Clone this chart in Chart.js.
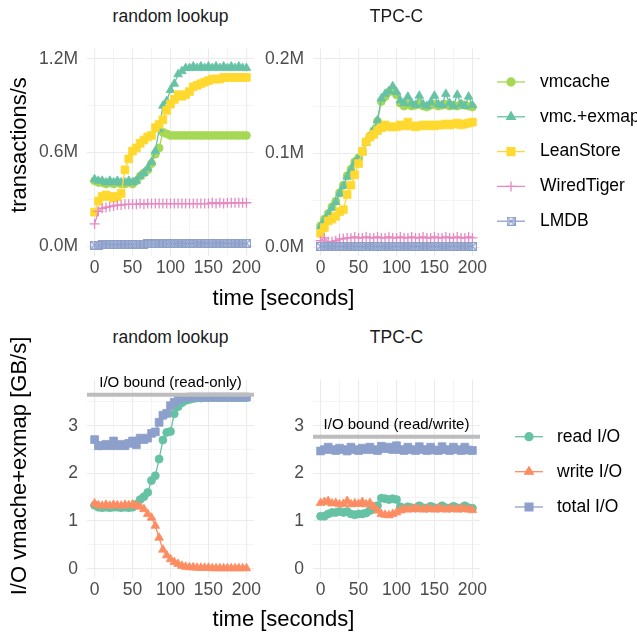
<!DOCTYPE html>
<html>
<head>
<meta charset="utf-8">
<script src="https://cdn.jsdelivr.net/npm/chart.js@4.4.1/dist/chart.umd.min.js"></script>
<style>
    body { margin: 0; background: #fff; }
    #wrap { position: relative; width: 637px; height: 632px; overflow: hidden; font-family: "Liberation Sans", Arial, sans-serif; }
    #wrap canvas { position: absolute; }
    .txt { position: absolute; white-space: nowrap; transform: translate(-50%, -50%); line-height: 1; }
    .strip { font-size: 17.5px; color: #1a1a1a; }
    .axis-title { font-size: 22px; color: #000; }
    .rot { transform: translate(-50%, -50%) rotate(-90deg); }
</style>
</head>
<body>
<div id="wrap"></div>
<script>
// --- DATA ---
const TIME = [0, 5, 10, 15, 20, 25, 30, 35, 40, 45, 50, 55, 60, 65, 70, 75, 80, 85, 90, 95, 100,
    105, 110, 115, 120, 125, 130, 135, 140, 145, 150, 155, 160, 165, 170, 175, 180, 185, 190, 195, 200];

const PANEL_TITLES = ['random lookup', 'TPC-C'];
const TOP_SERIES = ['vmcache', 'vmc.+exmap', 'LeanStore', 'WiredTiger', 'LMDB'];
const IO_SERIES = ['read I/O', 'write I/O', 'total I/O'];

// transactions/s (millions), random lookup
const RL_VMCACHE = [0.42, 0.41, 0.41, 0.40, 0.41, 0.40, 0.41, 0.40, 0.40, 0.41, 0.40, 0.42, 0.45, 0.47, 0.49, 0.53, 0.59, 0.63, 0.73, 0.72, 0.71,
    0.71, 0.71, 0.71, 0.71, 0.71, 0.71, 0.71, 0.71, 0.71, 0.71, 0.71, 0.71, 0.71, 0.71, 0.71, 0.71, 0.71, 0.71, 0.71, 0.71];
const RL_EXMAP = [0.43, 0.42, 0.42, 0.41, 0.42, 0.41, 0.42, 0.41, 0.41, 0.42, 0.41, 0.42, 0.45, 0.47, 0.50, 0.54, 0.61, 0.75, 0.90, 0.93, 1.00,
    1.04, 1.10, 1.12, 1.14, 1.14, 1.15, 1.14, 1.15, 1.14, 1.15, 1.14, 1.15, 1.14, 1.15, 1.14, 1.15, 1.14, 1.15, 1.14, 1.14];
const RL_LEANSTORE = [0.22, 0.29, 0.32, 0.33, 0.32, 0.31, 0.32, 0.34, 0.49, 0.56, 0.61, 0.63, 0.66, 0.68, 0.70, 0.71, 0.76, 0.78, 0.81, 0.87, 0.91,
    0.94, 0.97, 0.96, 0.97, 0.99, 1.02, 1.03, 1.04, 1.05, 1.06, 1.07, 1.07, 1.07, 1.08, 1.08, 1.08, 1.08, 1.08, 1.08, 1.08];
const RL_WIREDTIGER = [0.145, 0.225, 0.245, 0.25, 0.255, 0.26, 0.265, 0.265, 0.27, 0.27, 0.27, 0.27, 0.275, 0.27, 0.275, 0.275, 0.275, 0.275, 0.275, 0.275, 0.275,
    0.275, 0.275, 0.275, 0.275, 0.275, 0.275, 0.275, 0.275, 0.275, 0.275, 0.28, 0.275, 0.28, 0.275, 0.28, 0.28, 0.28, 0.28, 0.28, 0.28];
const RL_LMDB = [0.010, 0.010, 0.012, 0.012, 0.013, 0.013, 0.014, 0.014, 0.015, 0.015, 0.015, 0.016, 0.016, 0.016, 0.017, 0.017, 0.017, 0.018, 0.018, 0.018, 0.018,
    0.019, 0.019, 0.019, 0.019, 0.019, 0.020, 0.020, 0.020, 0.020, 0.020, 0.020, 0.020, 0.020, 0.020, 0.021, 0.021, 0.021, 0.021, 0.021, 0.021];

// transactions/s (millions), TPC-C
const TPC_VMCACHE = [0.023, 0.030, 0.036, 0.043, 0.049, 0.058, 0.066, 0.076, 0.083, 0.091, 0.095, 0.102, 0.112, 0.118, 0.124, 0.134, 0.155, 0.160, 0.165, 0.168, 0.162,
    0.153, 0.150, 0.152, 0.150, 0.151, 0.153, 0.150, 0.149, 0.151, 0.152, 0.150, 0.151, 0.152, 0.150, 0.151, 0.150, 0.152, 0.151, 0.150, 0.149];
const TPC_EXMAP = [0.022, 0.029, 0.035, 0.042, 0.048, 0.057, 0.065, 0.075, 0.082, 0.090, 0.095, 0.101, 0.111, 0.118, 0.125, 0.135, 0.158, 0.163, 0.166, 0.171, 0.165,
    0.156, 0.153, 0.160, 0.153, 0.151, 0.161, 0.152, 0.150, 0.154, 0.161, 0.152, 0.151, 0.163, 0.153, 0.150, 0.162, 0.152, 0.150, 0.160, 0.151];
const TPC_LEANSTORE = [0.015, 0.021, 0.028, 0.030, 0.033, 0.038, 0.040, 0.056, 0.066, 0.077, 0.089, 0.102, 0.112, 0.117, 0.120, 0.124, 0.127, 0.130, 0.128, 0.128, 0.128,
    0.130, 0.129, 0.133, 0.129, 0.128, 0.129, 0.130, 0.129, 0.130, 0.129, 0.130, 0.130, 0.131, 0.130, 0.131, 0.132, 0.130, 0.131, 0.132, 0.133];
const TPC_WIREDTIGER = [0.007, 0.010, 0.006, 0.006, 0.007, 0.009, 0.009, 0.010, 0.010, 0.011, 0.010, 0.010, 0.011, 0.010, 0.010, 0.011, 0.010, 0.010, 0.011, 0.010, 0.010,
    0.011, 0.010, 0.010, 0.011, 0.010, 0.010, 0.011, 0.010, 0.010, 0.011, 0.010, 0.010, 0.011, 0.010, 0.010, 0.011, 0.010, 0.010, 0.011, 0.010];
const TPC_LMDB = [0.001, 0.001, 0.001, 0.001, 0.001, 0.001, 0.001, 0.001, 0.001, 0.001, 0.001, 0.001, 0.001, 0.001, 0.001, 0.001, 0.001, 0.001, 0.001, 0.001, 0.001,
    0.001, 0.001, 0.001, 0.001, 0.001, 0.001, 0.001, 0.001, 0.001, 0.001, 0.001, 0.001, 0.001, 0.001, 0.001, 0.001, 0.001, 0.001, 0.001, 0.001];

// I/O vmcache+exmap (GB/s), random lookup
const RL_READ = [1.33, 1.29, 1.28, 1.29, 1.28, 1.29, 1.29, 1.28, 1.29, 1.28, 1.29, 1.35, 1.45, 1.51, 1.60, 1.85, 1.95, 2.30, 2.70, 2.86, 2.88,
    3.25, 3.40, 3.48, 3.53, 3.55, 3.57, 3.58, 3.58, 3.59, 3.59, 3.59, 3.59, 3.59, 3.59, 3.59, 3.59, 3.59, 3.59, 3.59, 3.59];
const RL_WRITE = [1.37, 1.33, 1.32, 1.34, 1.32, 1.34, 1.33, 1.32, 1.34, 1.33, 1.35, 1.32, 1.30, 1.25, 1.15, 1.07, 0.90, 0.65, 0.40, 0.28, 0.20,
    0.14, 0.10, 0.06, 0.04, 0.03, 0.03, 0.02, 0.02, 0.02, 0.02, 0.01, 0.01, 0.01, 0.01, 0.01, 0.01, 0.01, 0.01, 0.01, 0.01];
const RL_TOTAL = [2.71, 2.58, 2.58, 2.61, 2.58, 2.68, 2.58, 2.61, 2.58, 2.63, 2.68, 2.60, 2.74, 2.71, 2.74, 2.84, 2.87, 3.07, 3.22, 3.26, 3.42,
    3.49, 3.55, 3.58, 3.59, 3.60, 3.60, 3.60, 3.60, 3.60, 3.60, 3.60, 3.60, 3.60, 3.60, 3.60, 3.60, 3.60, 3.60, 3.60, 3.60];

// I/O vmcache+exmap (GB/s), TPC-C
const TPC_READ = [1.10, 1.10, 1.15, 1.18, 1.18, 1.20, 1.18, 1.20, 1.15, 1.13, 1.15, 1.15, 1.17, 1.22, 1.25, 1.32, 1.48, 1.47, 1.45, 1.47, 1.45,
    1.30, 1.27, 1.30, 1.28, 1.27, 1.32, 1.28, 1.27, 1.31, 1.28, 1.27, 1.32, 1.28, 1.27, 1.31, 1.28, 1.27, 1.32, 1.28, 1.27];
const TPC_WRITE = [1.38, 1.40, 1.42, 1.37, 1.38, 1.35, 1.36, 1.42, 1.35, 1.37, 1.36, 1.40, 1.35, 1.38, 1.30, 1.22, 1.15, 1.13, 1.12, 1.15, 1.18,
    1.22, 1.25, 1.24, 1.25, 1.27, 1.25, 1.24, 1.26, 1.25, 1.24, 1.27, 1.25, 1.24, 1.26, 1.25, 1.24, 1.27, 1.25, 1.24, 1.23];
const TPC_TOTAL = [2.47, 2.50, 2.55, 2.50, 2.48, 2.53, 2.50, 2.47, 2.55, 2.50, 2.48, 2.53, 2.50, 2.55, 2.50, 2.48, 2.57, 2.52, 2.55, 2.50, 2.58,
    2.50, 2.48, 2.55, 2.50, 2.48, 2.56, 2.50, 2.48, 2.55, 2.49, 2.48, 2.56, 2.50, 2.48, 2.55, 2.50, 2.48, 2.55, 2.49, 2.48];

// ticks (minor ones in between carry no label)
const X_TICKS = [0, 25, 50, 75, 100, 125, 150, 175, 200];
const RL_TPS_TICKS = [0, 0.3, 0.6, 0.9, 1.2];
const TPC_TPS_TICKS = [0, 0.05, 0.1, 0.15, 0.2];
const IO_TICKS = [0, 0.5, 1, 1.5, 2, 2.5, 3, 3.5];

// I/O bound reference lines
const BOUND_VALUES = [3.65, 2.77];
const BOUND_LABELS = ['I/O bound (read-only)', 'I/O bound (read/write)'];
const BOUND_LABEL_AT = 100;

// --- STYLE ---
const FONT = '"Liberation Sans", Arial, sans-serif';
const YW = 60, XH = 40, PT = 4;

function boxTimes(color, s) {
    // square with a cross, like ggplot shape 7
    const c = document.createElement('canvas');
    c.width = s; c.height = s;
    const g = c.getContext('2d');
    g.strokeStyle = color;
    g.lineWidth = 1.2;
    g.strokeRect(0.6, 0.6, s - 1.2, s - 1.2);
    g.beginPath();
    g.moveTo(1, 1); g.lineTo(s - 1, s - 1);
    g.moveTo(s - 1, 1); g.lineTo(1, s - 1);
    g.stroke();
    return c;
}

const TOP_STYLES = [
    { color: '#a6d854', pointStyle: 'circle', radius: 4 },
    { color: '#66c2a5', pointStyle: 'triangle', radius: 5 },
    { color: '#ffd92f', pointStyle: 'rect', radius: 5.5 },
    { color: '#e78ac3', pointStyle: 'cross', radius: 5 },
    { color: '#8da0cb', pointStyle: boxTimes('#8da0cb', 9), radius: 4.5 }
];
const IO_STYLES = [
    { color: '#66c2a5', pointStyle: 'circle', radius: 4 },
    { color: '#fc8d62', pointStyle: 'triangle', radius: 5 },
    { color: '#8da0cb', pointStyle: 'rect', radius: 5.5 }
];

const wrap = document.getElementById('wrap');

function makeDatasets(names, styles, series) {
    return names.map((name, i) => ({
        label: name,
        data: TIME.map((t, k) => ({ x: t, y: series[i][k] })),
        borderColor: styles[i].color,
        backgroundColor: styles[i].color,
        borderWidth: 1.3,
        pointStyle: styles[i].pointStyle,
        pointRadius: styles[i].radius,
        pointBackgroundColor: styles[i].color,
        pointBorderColor: styles[i].color,
        pointBorderWidth: styles[i].pointStyle === 'cross' ? 1.3 : 0.8,
        tension: 0,
        order: names.length - i
    }));
}

function legendPlugin(x1, x2, tx, ys, offX, offY) {
    return {
        id: 'sideLegend',
        afterDraw(chart) {
            const ctx = chart.ctx;
            ctx.save();
            chart.data.datasets.forEach((ds, i) => {
                const y = ys[i] - offY;
                ctx.strokeStyle = ds.borderColor;
                ctx.lineWidth = 1.3;
                ctx.beginPath();
                ctx.moveTo(x1 - offX, y);
                ctx.lineTo(x2 - offX, y);
                ctx.stroke();
                ctx.fillStyle = ds.borderColor;
                Chart.helpers.drawPoint(ctx, {
                    pointStyle: ds.pointStyle, radius: ds.pointRadius, rotation: 0,
                    borderWidth: ds.pointBorderWidth
                }, (x1 + x2) / 2 - offX, y);
                ctx.fillStyle = '#000';
                ctx.font = '17.5px ' + FONT;
                ctx.textAlign = 'left';
                ctx.textBaseline = 'middle';
                ctx.fillText(ds.label, tx - offX, y);
            });
            ctx.restore();
        }
    };
}

function boundPlugin(value, label) {
    return {
        id: 'ioBound',
        afterDatasetsDraw(chart) {
            const { ctx, chartArea: a, scales: { x, y } } = chart;
            const py = y.getPixelForValue(value);
            ctx.save();
            ctx.strokeStyle = '#bdbdbd';
            ctx.lineWidth = 4;
            ctx.beginPath();
            ctx.moveTo(a.left, py);
            ctx.lineTo(a.right, py);
            ctx.stroke();
            ctx.fillStyle = '#000';
            ctx.font = '15px ' + FONT;
            ctx.textAlign = 'center';
            ctx.textBaseline = 'middle';
            ctx.fillText(label, x.getPixelForValue(BOUND_LABEL_AT), py - 11.5);
            ctx.restore();
        }
    };
}

function panel(p) {
    const W = p.r - p.l + YW + p.pr;
    const H = p.b - p.t + PT + XH;
    const left = p.l - YW, top = p.t - PT;
    const cv = document.createElement('canvas');
    cv.width = W; cv.height = H;
    cv.style.left = left + 'px';
    cv.style.top = top + 'px';
    cv.style.width = W + 'px';
    cv.style.height = H + 'px';
    wrap.appendChild(cv);

    const tickFont = { family: FONT, size: 17.5 };
    const plugins = [];
    if (p.legend) plugins.push(legendPlugin(p.legend.x1, p.legend.x2, p.legend.tx, p.legend.ys, left, top));
    if (p.bound) plugins.push(boundPlugin(p.bound.value, p.bound.label));

    new Chart(cv, {
        type: 'line',
        data: { datasets: p.datasets },
        options: {
            responsive: false,
            animation: false,
            events: [],
            layout: { padding: { top: PT, right: p.pr, left: 0, bottom: 0 } },
            plugins: { legend: { display: false }, tooltip: { enabled: false } },
            scales: {
                x: {
                    type: 'linear', min: -10, max: 210,
                    afterBuildTicks: s => { s.ticks = X_TICKS.map(v => ({ value: v })); },
                    afterFit: s => { s.height = XH; },
                    border: { display: false },
                    grid: { drawTicks: false, color: '#ebebeb', lineWidth: c => (c.index % 2 === 0 ? 1.1 : 0.55) },
                    ticks: {
                        autoSkip: false, maxRotation: 0, padding: 2, color: '#4d4d4d', font: tickFont,
                        callback: (v, i) => (i % 2 === 0 ? String(v) : '')
                    }
                },
                y: {
                    type: 'linear', min: p.ymin, max: p.ymax,
                    afterBuildTicks: s => { s.ticks = p.yticks.map(v => ({ value: v })); },
                    afterFit: s => { s.width = YW; },
                    border: { display: false },
                    grid: { drawTicks: false, color: '#ebebeb', lineWidth: c => (c.index % 2 === 0 ? 1.1 : 0.55) },
                    ticks: {
                        autoSkip: false, padding: 9, color: '#4d4d4d', font: tickFont,
                        callback: (v, i) => (i % 2 === 0 ? p.fmt(v) : '')
                    }
                }
            }
        },
        plugins: plugins
    });
}

const mFmt = v => v.toFixed(1) + 'M';
const ioFmt = v => String(v);
const TOP_LEGEND = { x1: 497, x2: 525, tx: 540, ys: [82, 116.8, 151.6, 186.4, 221.2] };
const IO_LEGEND = { x1: 515, x2: 543, tx: 557, ys: [436.7, 471.7, 507] };

panel({ l: 87, r: 254, t: 33, b: 256, pr: 12, ymin: -0.06, ymax: 1.265, yticks: RL_TPS_TICKS, fmt: mFmt,
    datasets: makeDatasets(TOP_SERIES, TOP_STYLES, [RL_VMCACHE, RL_EXMAP, RL_LEANSTORE, RL_WIREDTIGER, RL_LMDB]) });
panel({ l: 313, r: 480, t: 33, b: 256, pr: 157, ymin: -0.0092, ymax: 0.2112, yticks: TPC_TPS_TICKS, fmt: mFmt,
    datasets: makeDatasets(TOP_SERIES, TOP_STYLES, [TPC_VMCACHE, TPC_EXMAP, TPC_LEANSTORE, TPC_WIREDTIGER, TPC_LMDB]),
    legend: TOP_LEGEND });
panel({ l: 87, r: 254, t: 364, b: 578, pr: 12, ymin: -0.195, ymax: 3.97, yticks: IO_TICKS, fmt: ioFmt,
    datasets: makeDatasets(IO_SERIES, IO_STYLES, [RL_READ, RL_WRITE, RL_TOTAL]),
    bound: { value: BOUND_VALUES[0], label: BOUND_LABELS[0] } });
panel({ l: 313, r: 480, t: 364, b: 578, pr: 157, ymin: -0.195, ymax: 3.97, yticks: IO_TICKS, fmt: ioFmt,
    datasets: makeDatasets(IO_SERIES, IO_STYLES, [TPC_READ, TPC_WRITE, TPC_TOTAL]),
    bound: { value: BOUND_VALUES[1], label: BOUND_LABELS[1] }, legend: IO_LEGEND });

// --- TEXT: facet strips and axis titles ---
function label(text, cls, x, y) {
    const d = document.createElement('div');
    d.className = 'txt ' + cls;
    d.textContent = text;
    d.style.left = x + 'px';
    d.style.top = y + 'px';
    wrap.appendChild(d);
}
label(PANEL_TITLES[0], 'strip', 170.5, 17);
label(PANEL_TITLES[1], 'strip', 396.5, 17);
label(PANEL_TITLES[0], 'strip', 170.5, 338);
label(PANEL_TITLES[1], 'strip', 396.5, 338);
label('time [seconds]', 'axis-title', 283.5, 298);
label('time [seconds]', 'axis-title', 283.5, 619);
label('transactions/s', 'axis-title rot', 19, 145);
label('I/O vmache+exmap [GB/s]', 'axis-title rot', 19, 466);
</script>
</body>
</html>
